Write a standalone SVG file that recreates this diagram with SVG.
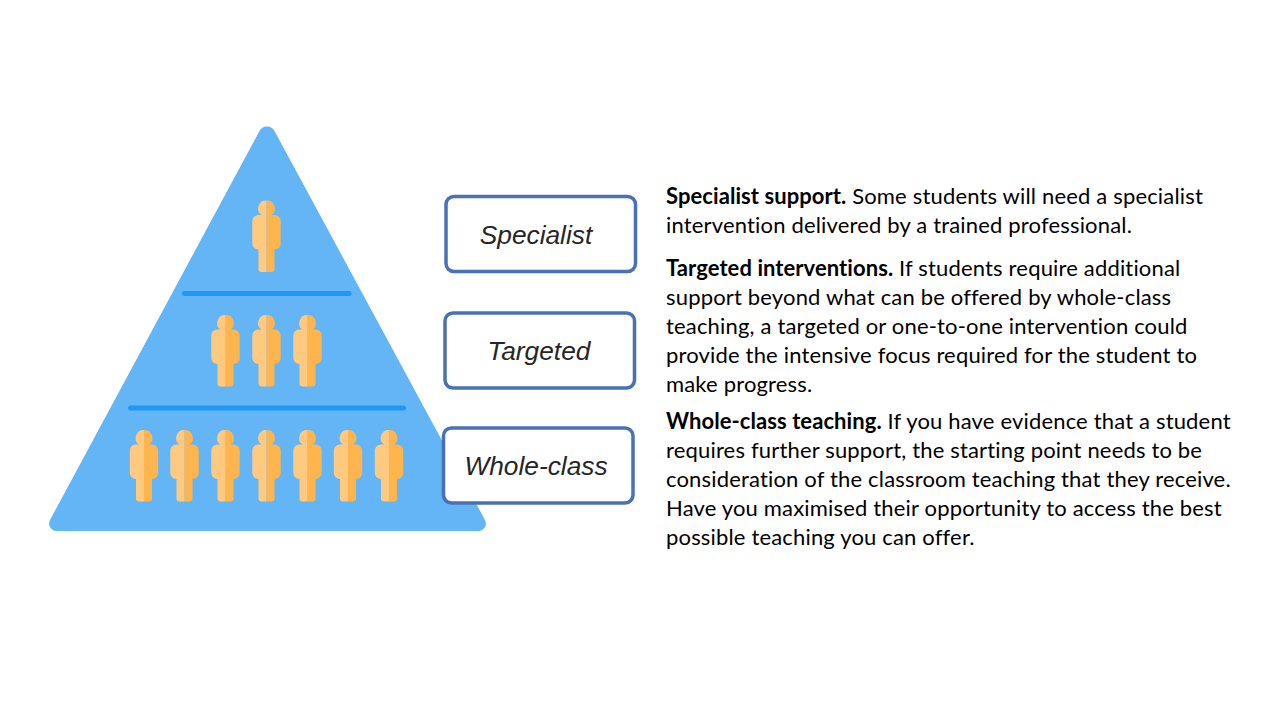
<svg xmlns="http://www.w3.org/2000/svg" width="1280" height="720" viewBox="0 0 1280 720">
<style>
.box{fill:#fff;stroke:#4a71b5;stroke-width:3.5}
.lab{font-family:"Liberation Sans",Arial,sans-serif;font-style:italic;font-size:26.300px;fill:#262626;text-anchor:middle}
.t{font-family:Lato,"Open Sans",sans-serif;font-size:22px;letter-spacing:.17px;fill:#000}
.t tspan{font-weight:700;letter-spacing:.07px}
.bar{stroke:#2196f3;stroke-width:5;stroke-linecap:round}
</style>
<defs>
<g id="person">
<path d="M266.500 200.500a8 8 0 0 1 5 14.500h3.200a6 6 0 0 1 6 6v22.500a6 6 0 0 1-6 6h-.2v19.500a3 3 0 0 1-3 3h-5z" fill="#ffb54d"/>
<path d="M266.500 200.500a8 8 0 0 0-5 14.500h-3.200a6 6 0 0 0-6 6v22.500a6 6 0 0 0 6 6h.2v19.500a3 3 0 0 0 3 3h5z" fill="#ffc980"/>
</g>
</defs>
<rect width="1280" height="720" fill="#fff"/>
<g id="pyramid">
<path d="M259.500 131a8.500 8.500 0 0 1 15 0L485 520a7.500 7.500 0 0 1-6.500 11H56.500a7.500 7.500 0 0 1-6.500-11z" fill="#64b5f6"/>
<line class="bar" x1="184.500" y1="293.500" x2="349" y2="293.500"/>
<line class="bar" x1="130.500" y1="408" x2="403.500" y2="408"/>
</g>
<g id="people-specialist"><use href="#person"/></g>
<g id="people-targeted">
<use href="#person" x="-41" y="114.500"/><use href="#person" y="114.500"/><use href="#person" x="41" y="114.500"/>
</g>
<g id="people-whole-class">
<use href="#person" x="-122.500" y="229.500"/><use href="#person" x="-82" y="229.500"/><use href="#person" x="-41" y="229.500"/><use href="#person" y="229.500"/><use href="#person" x="41" y="229.500"/><use href="#person" x="81.500" y="229.500"/><use href="#person" x="122.500" y="229.500"/>
</g>
<g id="node-specialist"><rect class="box" x="446" y="196.500" width="189.500" height="75" rx="8"/><text class="lab" x="536" y="243.500">Specialist</text></g>
<g id="node-targeted"><rect class="box" x="445" y="313" width="189.500" height="75" rx="8"/><text class="lab" x="539" y="360">Targeted</text></g>
<g id="node-whole-class"><rect class="box" x="443.500" y="428" width="189.500" height="75" rx="8"/><text class="lab" x="536" y="475">Whole-class</text></g>
<g id="text-specialist">
<text class="t" x="666" y="204"><tspan>Specialist support.</tspan> Some students will need a specialist</text>
<text class="t" x="666" y="233">intervention delivered by a trained professional.</text>
</g>
<g id="text-targeted">
<text class="t" x="666" y="276"><tspan>Targeted interventions.</tspan> If students require additional</text>
<text class="t" x="666" y="305">support beyond what can be offered by whole-class</text>
<text class="t" x="666" y="334">teaching, a targeted or one-to-one intervention could</text>
<text class="t" x="666" y="363">provide the intensive focus required for the student to</text>
<text class="t" x="666" y="392">make progress.</text>
</g>
<g id="text-whole-class">
<text class="t" x="666" y="429"><tspan>Whole-class teaching.</tspan> If you have evidence that a student</text>
<text class="t" x="666" y="458">requires further support, the starting point needs to be</text>
<text class="t" x="666" y="487">consideration of the classroom teaching that they receive.</text>
<text class="t" x="666" y="516">Have you maximised their opportunity to access the best</text>
<text class="t" x="666" y="545">possible teaching you can offer.</text>
</g>
</svg>
